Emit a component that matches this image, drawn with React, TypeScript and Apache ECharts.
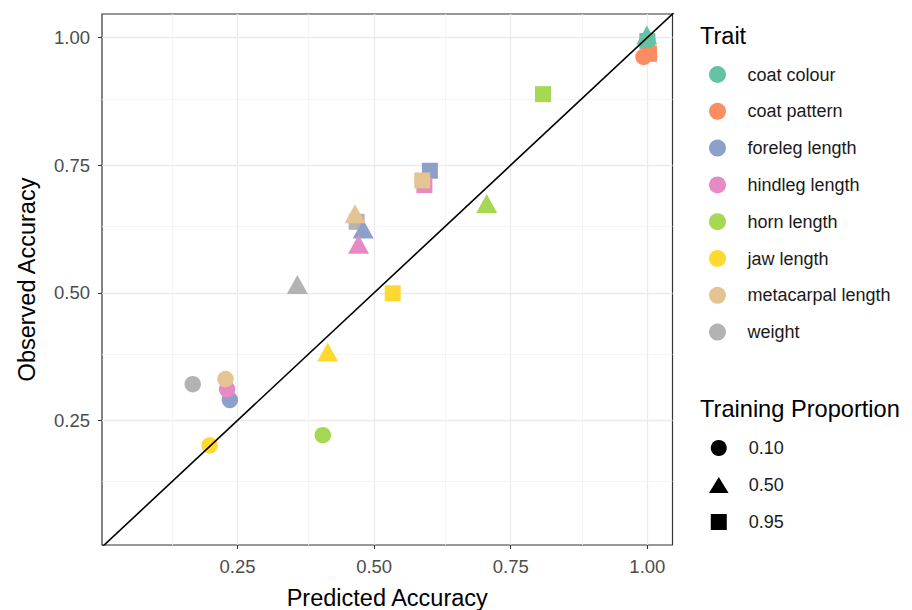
import React, { useEffect, useRef } from "react";
import * as echarts from "echarts";

const traits = [
  "coat colour",
  "coat pattern",
  "foreleg length",
  "hindleg length",
  "horn length",
  "jaw length",
  "metacarpal length",
  "weight",
];
const traitColors = ["#66C2A5", "#FC8D62", "#8DA0CB", "#E78AC3", "#A6D854", "#FFD92F", "#E5C494", "#B3B3B3"];

const proportions = ["0.10", "0.50", "0.95"];

// predicted / observed accuracy per trait, per training proportion
const predicted010 = [1.0, 0.993, 0.236, 0.231, 0.406, 0.199, 0.228, 0.168];
const observed010 = [0.995, 0.962, 0.29, 0.311, 0.221, 0.201, 0.331, 0.321];
const predicted050 = [0.999, 1.0, 0.48, 0.4715, 0.706, 0.415, 0.465, 0.3595];
const observed050 = [1.005, 0.98, 0.625, 0.595, 0.675, 0.384, 0.655, 0.516];
const predicted095 = [1.0, 1.003, 0.602, 0.592, 0.809, 0.534, 0.588, 0.468];
const observed095 = [0.993, 0.968, 0.739, 0.711, 0.889, 0.499, 0.72, 0.639];

const xTicks = [0.25, 0.5, 0.75, 1.0];
const yTicks = [0.25, 0.5, 0.75, 1.0];
const minorTicks = [0.125, 0.375, 0.625, 0.875];
const refLine = [-0.1, 1.2];

const FONT = "'Liberation Sans', Arial, sans-serif";

export default function App() {
  const ref = useRef<HTMLDivElement>(null);
  useEffect(() => {
    if (!ref.current) return;
    const chart = echarts.init(ref.current, undefined, { renderer: "svg" });

    const sizeCircle = 16.5;
    const sizeSquare = 16;
    const sizeTri = [21, 19];

    const points: any[] = [];
    // draw order: squares, triangles, circles
    traits.forEach((t, i) => {
      points.push({ value: [predicted095[i], observed095[i]], symbol: "rect", symbolSize: sizeSquare, itemStyle: { color: traitColors[i], opacity: 1 } });
    });
    traits.forEach((t, i) => {
      points.push({ value: [predicted050[i], observed050[i]], symbol: "triangle", symbolSize: sizeTri, itemStyle: { color: traitColors[i], opacity: 1 } });
    });
    traits.forEach((t, i) => {
      points.push({ value: [predicted010[i], observed010[i]], symbol: "circle", symbolSize: sizeCircle, itemStyle: { color: traitColors[i], opacity: 1 } });
    });

    const gridLines = [
      ...xTicks.map((v) => ({ xAxis: v, lineStyle: { color: "#EBEBEB", width: 1.3, type: "solid" } })),
      ...yTicks.map((v) => ({ yAxis: v, lineStyle: { color: "#EBEBEB", width: 1.3, type: "solid" } })),
      ...minorTicks.map((v) => ({ xAxis: v, lineStyle: { color: "#F3F3F3", width: 0.8, type: "solid" } })),
      ...minorTicks.map((v) => ({ yAxis: v, lineStyle: { color: "#F3F3F3", width: 0.8, type: "solid" } })),
    ];

    const traitLegendSeries = traits.map((t, i) => ({
      name: t,
      type: "scatter",
      data: [],
      itemStyle: { color: traitColors[i], opacity: 1 },
    }));
    const propIcons = [
      "circle",
      "path://M11,0L22,18L0,18Z",
      "path://M0,0L14,0L14,14L0,14Z",
    ];
    const propLegendSeries = proportions.map((p) => ({
      name: p,
      type: "scatter",
      data: [],
      itemStyle: { color: "#000", opacity: 1 },
    }));

    chart.setOption({
      animation: false,
      backgroundColor: "#fff",
      textStyle: { fontFamily: FONT },
      grid: {
        left: 102,
        top: 14,
        width: 570.5,
        height: 531,
        show: true,
        borderColor: "#333",
        borderWidth: 1.2,
        backgroundColor: "transparent",
        containLabel: false,
        outerBoundsMode: "none",
      },
      xAxis: {
        type: "value",
        min: 0.002,
        max: 1.046,
        name: "Predicted Accuracy",
        nameLocation: "middle",
        nameGap: 41,
        nameTextStyle: { fontSize: 23.5, color: "#000", fontFamily: FONT },
        axisLine: { show: false },
        splitLine: { show: false },
        axisTick: { show: true, customValues: xTicks, length: 4, lineStyle: { color: "#333", width: 1.1 } },
        axisLabel: {
          customValues: xTicks,
          formatter: (v: number) => v.toFixed(2),
          fontSize: 18.5,
          color: "#4D4D4D",
          margin: 12,
          fontFamily: FONT,
        },
      },
      yAxis: {
        type: "value",
        min: 0.006,
        max: 1.046,
        name: "Observed Accuracy",
        nameLocation: "middle",
        nameGap: 63,
        nameTextStyle: { fontSize: 23.5, color: "#000", fontFamily: FONT },
        axisLine: { show: false },
        splitLine: { show: false },
        axisTick: { show: true, customValues: yTicks, length: 4, lineStyle: { color: "#333", width: 1.1 } },
        axisLabel: {
          customValues: yTicks,
          formatter: (v: number) => v.toFixed(2),
          fontSize: 18.5,
          color: "#4D4D4D",
          margin: 12,
          fontFamily: FONT,
        },
      },
      legend: [
        {
          data: traits,
          orient: "vertical",
          left: 709,
          top: 65.5,
          itemWidth: 50,
          itemHeight: 17,
          itemGap: 18.8,
          icon: "circle",
          selectedMode: false,
          padding: 0,
          textStyle: { fontSize: 18, color: "#1A1A1A", lineHeight: 17, fontFamily: FONT },
        },
        {
          data: proportions.map((p, i) => ({ name: p, icon: propIcons[i] })),
          orient: "vertical",
          left: 709,
          top: 439,
          itemWidth: 50,
          itemHeight: 16,
          itemGap: 19,
          selectedMode: false,
          padding: 0,
          textStyle: { fontSize: 18, color: "#1A1A1A", lineHeight: 16, fontFamily: FONT },
        },
      ],
      graphic: [
        { type: "text", x: 700, y: 36, style: { text: "Trait", fontSize: 23.5, fill: "#000", verticalAlign: "middle", fontFamily: FONT } },
        { type: "text", x: 700, y: 409, style: { text: "Training Proportion", fontSize: 23.6, fill: "#000", verticalAlign: "middle", fontFamily: FONT } },
      ],
      series: [
        {
          name: "grid",
          type: "scatter",
          data: [],
          z: 1,
          silent: true,
          markLine: { silent: true, symbol: "none", z: 1, label: { show: false }, data: gridLines },
        },
        {
          name: "points",
          type: "scatter",
          z: 3,
          data: points,
        },
        {
          name: "y = x",
          type: "line",
          z: 4,
          symbol: "none",
          clip: true,
          data: refLine.map((v) => [v, v]),
          lineStyle: { color: "#000", width: 1.6 },
        },
        ...traitLegendSeries,
        ...propLegendSeries,
      ],
    });
    return () => chart.dispose();
  }, []);
  return <div ref={ref} style={{ position: "absolute", left: 0, top: 0, width: 912, height: 610 }} />;
}
